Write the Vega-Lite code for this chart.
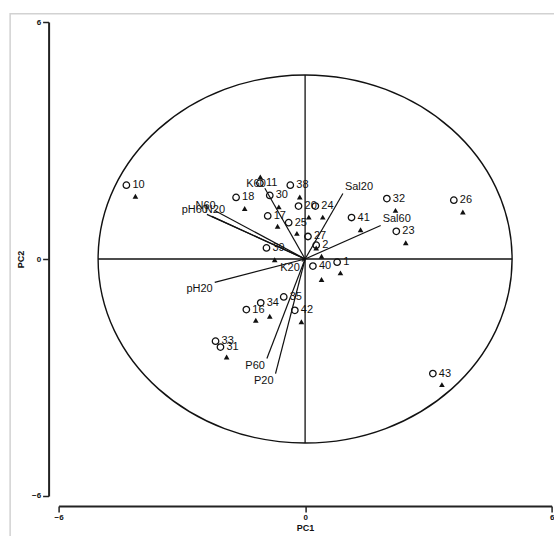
{
  "$schema": "https://vega.github.io/schema/vega-lite/v6.json",
  "width": 493,
  "height": 474,
  "autosize": {"type": "none"},
  "padding": {"left": 58.6, "top": 22, "right": 3, "bottom": 40},
  "background": "white",
  "config": {
    "view": {"stroke": null},
    "font": "Liberation Sans",
    "axis": {
      "grid": false,
      "offset": 10,
      "domainColor": "#222222",
      "domainWidth": 2,
      "tickColor": "#222222",
      "tickWidth": 1.5,
      "tickSize": 6,
      "labelFont": "Liberation Sans",
      "labelFontSize": 8,
      "labelFontWeight": "bold",
      "labelColor": "#111111",
      "labelFlush": false,
      "labelOverlap": false,
      "labelPadding": 2,
      "titleFont": "Liberation Sans",
      "titleFontSize": 9,
      "titleFontWeight": "bold",
      "titleColor": "#111111"
    }
  },
  "datasets": {
    "frame": [{"PC1": -7.18, "PC1_end": 7.6, "PC2": 6.21, "PC2_end": -7.6}],
    "center": [{"PC1": 0, "PC2": 0}],
    "cross": [
      {"PC1": -5.04, "PC1_end": 5.04, "PC2": 0, "PC2_end": 0},
      {"PC1": 0, "PC1_end": 0, "PC2": -4.66, "PC2_end": 4.66}
    ],
    "sites": [
      {"site": "10", "PC1": -4.35, "PC2": 1.87},
      {"site": "18", "PC1": -1.68, "PC2": 1.56},
      {"site": "11", "PC1": -1.1, "PC2": 1.92},
      {"site": "38", "PC1": -0.36, "PC2": 1.87},
      {"site": "30", "PC1": -0.86, "PC2": 1.61},
      {"site": "20", "PC1": -0.16, "PC2": 1.34},
      {"site": "24", "PC1": 0.25, "PC2": 1.34},
      {"site": "17", "PC1": -0.91, "PC2": 1.09},
      {"site": "25", "PC1": -0.4, "PC2": 0.92},
      {"site": "27", "PC1": 0.07, "PC2": 0.57},
      {"site": "2", "PC1": 0.27, "PC2": 0.35},
      {"site": "39", "PC1": -0.94, "PC2": 0.28},
      {"site": "40", "PC1": 0.19, "PC2": -0.18},
      {"site": "1", "PC1": 0.78, "PC2": -0.08},
      {"site": "16", "PC1": -1.43, "PC2": -1.28},
      {"site": "34", "PC1": -1.08, "PC2": -1.11},
      {"site": "35", "PC1": -0.52, "PC2": -0.96},
      {"site": "42", "PC1": -0.25, "PC2": -1.3},
      {"site": "33", "PC1": -2.18, "PC2": -2.08},
      {"site": "31", "PC1": -2.06, "PC2": -2.23},
      {"site": "32", "PC1": 1.99, "PC2": 1.53},
      {"site": "26", "PC1": 3.62, "PC2": 1.49},
      {"site": "41", "PC1": 1.13, "PC2": 1.05},
      {"site": "23", "PC1": 2.22, "PC2": 0.7},
      {"site": "43", "PC1": 3.11, "PC2": -2.9}
    ],
    "tri": [
      {"PC1": -4.13, "PC2": 1.59},
      {"PC1": -1.47, "PC2": 1.28},
      {"PC1": -1.09, "PC2": 2.08},
      {"PC1": -0.13, "PC2": 1.57},
      {"PC1": -0.64, "PC2": 1.32},
      {"PC1": 0.09, "PC2": 1.06},
      {"PC1": 0.43, "PC2": 1.06},
      {"PC1": -0.67, "PC2": 0.83},
      {"PC1": -0.2, "PC2": 0.65},
      {"PC1": 0.27, "PC2": 0.28},
      {"PC1": 0.4, "PC2": 0.07},
      {"PC1": -0.74, "PC2": -0.02},
      {"PC1": 0.4, "PC2": -0.52},
      {"PC1": 0.86, "PC2": -0.35},
      {"PC1": -1.2, "PC2": -1.55},
      {"PC1": -0.86, "PC2": -1.45},
      {"PC1": -0.09, "PC2": -1.59},
      {"PC1": -1.91, "PC2": -2.48},
      {"PC1": 2.2, "PC2": 1.23},
      {"PC1": 3.84, "PC2": 1.19},
      {"PC1": 1.35, "PC2": 0.74},
      {"PC1": 2.45, "PC2": 0.41},
      {"PC1": 3.33, "PC2": -3.18}
    ],
    "vec": [
      {"var": "Sal20", "PC1": 0.92, "PC2": 1.66},
      {"var": "Sal60", "PC1": 1.84, "PC2": 0.85},
      {"var": "N60", "PC1": -2.2, "PC2": 1.23},
      {"var": "pH60", "PC1": -2.39, "PC2": 1.13},
      {"var": "N20", "PC1": -2.27, "PC2": 1.08},
      {"var": "pH20", "PC1": -2.2, "PC2": -0.59},
      {"var": "K60", "PC1": -0.98, "PC2": 1.79},
      {"var": "K20", "PC1": -0.08, "PC2": -0.06},
      {"var": "P60", "PC1": -0.93, "PC2": -2.52},
      {"var": "P20", "PC1": -0.72, "PC2": -2.9}
    ]
  },
  "encoding": {
    "x": {
      "field": "PC1",
      "type": "quantitative",
      "scale": {"domain": [-6, 6], "nice": false, "zero": false},
      "axis": {"title": "PC1", "values": [-6, 0, 6], "titlePadding": 2}
    },
    "y": {
      "field": "PC2",
      "type": "quantitative",
      "scale": {"domain": [-6, 6], "nice": false, "zero": false},
      "axis": {"title": "PC2", "values": [-6, 0, 6], "titlePadding": 6}
    }
  },
  "layer": [
    {
      "data": {"name": "frame"},
      "mark": {"type": "rect", "clip": false, "fillOpacity": 0, "stroke": "#d2d2d2", "strokeWidth": 1.5},
      "encoding": {"x2": {"field": "PC1_end"}, "y2": {"field": "PC2_end"}}
    },
    {
      "data": {"name": "center"},
      "mark": {
        "type": "point",
        "shape": "M -1 0 C -1 -0.491 -0.5523 -0.889 0 -0.889 C 0.5523 -0.889 1 -0.491 1 0 C 1 0.491 0.5523 0.889 0 0.889 C -0.5523 0.889 -1 0.491 -1 0 Z",
        "size": 171396,
        "filled": false,
        "stroke": "#111111",
        "strokeWidth": 1.4,
        "opacity": 1
      }
    },
    {
      "data": {"name": "cross"},
      "mark": {"type": "rule", "color": "#111111", "strokeWidth": 1.3},
      "encoding": {"x2": {"field": "PC1_end"}, "y2": {"field": "PC2_end"}}
    },
    {
      "data": {"name": "vec"},
      "mark": {"type": "rule", "color": "#111111", "strokeWidth": 1.2},
      "encoding": {"x2": {"datum": 0}, "y2": {"datum": 0}}
    },
    {
      "data": {"name": "tri"},
      "mark": {"type": "point", "shape": "triangle-up", "filled": true, "color": "#111111", "size": 32, "opacity": 1}
    },
    {
      "data": {"name": "sites"},
      "mark": {"type": "point", "shape": "circle", "filled": false, "stroke": "#111111", "strokeWidth": 1.3, "size": 42, "opacity": 1}
    },
    {
      "data": {"name": "sites"},
      "mark": {"type": "text", "align": "left", "baseline": "middle", "dx": 6, "fontSize": 11, "color": "#111111"},
      "encoding": {"text": {"field": "site"}}
    },
    {
      "data": {"name": "vec"},
      "transform": [{"filter": {"field": "var", "oneOf": ["Sal20", "Sal60"]}}],
      "mark": {"type": "text", "align": "left", "baseline": "bottom", "dx": 2, "dy": -1, "fontSize": 11, "color": "#111111"},
      "encoding": {"text": {"field": "var"}}
    },
    {
      "data": {"name": "vec"},
      "transform": [{"filter": {"field": "var", "oneOf": ["P60", "P20", "pH20", "K20"]}}],
      "mark": {"type": "text", "align": "right", "baseline": "top", "dx": -2, "dy": 1, "fontSize": 11, "color": "#111111"},
      "encoding": {"text": {"field": "var"}}
    },
    {
      "data": {"name": "vec"},
      "transform": [{"filter": {"field": "var", "oneOf": ["K60", "N60", "pH60"]}}],
      "mark": {"type": "text", "align": "right", "baseline": "bottom", "dx": 1, "dy": 1, "fontSize": 11, "color": "#111111"},
      "encoding": {"text": {"field": "var"}}
    },
    {
      "data": {"name": "vec"},
      "transform": [{"filter": {"field": "var", "equal": "N20"}}],
      "mark": {"type": "text", "align": "left", "baseline": "bottom", "dx": -7, "dy": -1, "fontSize": 11, "color": "#111111"},
      "encoding": {"text": {"field": "var"}}
    }
  ]
}
